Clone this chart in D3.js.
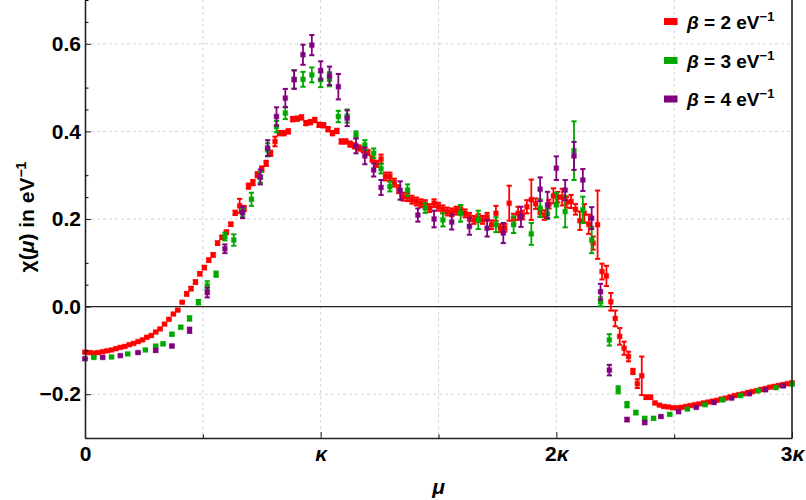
<!DOCTYPE html>
<html>
<head>
<meta charset="utf-8">
<script src="https://cdn.jsdelivr.net/npm/d3@7"></script>
<style>
  body { margin: 0; background: #fff; }
  svg text { font-family: "Liberation Sans", Arial, sans-serif; font-weight: bold; fill: #000; }
</style>
</head>
<body>
<div id="plot-area"></div>
<script>
// chi(mu) for three inverse temperatures, mu in eV (kappa = 1.6 eV)

const kappa = 1.6;
const xTicks = [0, 1.6, 3.2, 4.8];
const xTickNums = ["", "", "2", "3"]; // prefix before kappa
const yTicks = [-0.2, 0, 0.2, 0.4, 0.6];
const betaLabels = ["2", "3", "4"];

// beta = 2 eV^-1 (red)
const beta2Mu = [
  0.00,0.03,0.06,0.09,0.12,0.15,0.18,0.21,0.24,0.27,
  0.30,0.33,0.36,0.39,0.42,0.45,0.48,0.51,0.54,0.57,
  0.60,0.63,0.66,0.69,0.72,0.75,0.78,0.81,0.84,0.87,
  0.90,0.93,0.96,0.99,1.02,1.05,1.08,1.11,1.14,1.17,
  1.20,1.23,1.26,1.29,1.32,1.35,1.38,1.41,1.44,1.47,
  1.50,1.53,1.56,1.59,1.62,1.65,1.68,1.71,1.74,1.77,
  1.80,1.83,1.86,1.89,1.92,1.95,1.98,2.01,2.04,2.07,
  2.10,2.13,2.16,2.19,2.22,2.25,2.28,2.31,2.34,2.37,
  2.40,2.43,2.46,2.49,2.52,2.55,2.58,2.61,2.64,2.67,
  2.70,2.73,2.76,2.79,2.82,2.85,2.88,2.91,2.94,2.97,
  3.00,3.03,3.06,3.09,3.12,3.15,3.18,3.21,3.24,3.27,
  3.30,3.33,3.36,3.39,3.42,3.45,3.48,3.51,3.54,3.57,
  3.60,3.63,3.66,3.69,3.72,3.75,3.78,3.81,3.84,3.87,
  3.90,3.93,3.96,3.99,4.02,4.05,4.08,4.11,4.14,4.17,
  4.20,4.23,4.26,4.29,4.32,4.35,4.38,4.41,4.44,4.47,
  4.50,4.53,4.56,4.59,4.62,4.65,4.68,4.71,4.74,4.77,
  4.80];
const beta2Chi = [
  -0.104,-0.105,-0.106,-0.105,-0.103,-0.101,-0.099,-0.096,-0.093,-0.091,
  -0.087,-0.084,-0.080,-0.076,-0.070,-0.066,-0.058,-0.051,-0.040,-0.029,
  -0.017,-0.008,0.010,0.029,0.041,0.056,0.075,0.089,0.106,0.118,
  0.145,0.158,0.170,0.188,0.214,0.230,0.224,0.275,0.283,0.301,
  0.314,0.327,0.350,0.377,0.396,0.396,0.400,0.428,0.429,0.432,
  0.419,0.421,0.426,0.415,0.414,0.405,0.396,0.401,0.377,0.377,
  0.371,0.367,0.362,0.358,0.352,0.337,0.326,0.337,0.297,0.297,
  0.283,0.268,0.251,0.250,0.244,0.240,0.236,0.234,0.225,0.236,
  0.228,0.222,0.217,0.215,0.219,0.222,0.213,0.205,0.198,0.202,
  0.198,0.205,0.187,0.213,0.179,0.180,0.236,0.200,0.213,0.209,
  0.228,0.244,0.235,0.215,0.209,0.234,0.253,0.250,0.250,0.238,
  0.240,0.222,0.196,0.213,0.188,0.145,0.187,0.080,0.070,0.011,
  -0.027,-0.068,-0.095,-0.114,-0.148,-0.176,-0.158,-0.207,-0.207,-0.220,
  -0.225,-0.228,-0.229,-0.231,-0.231,-0.230,-0.228,-0.226,-0.224,-0.222,
  -0.220,-0.218,-0.216,-0.214,-0.211,-0.209,-0.206,-0.203,-0.201,-0.199,
  -0.196,-0.194,-0.192,-0.189,-0.187,-0.184,-0.182,-0.180,-0.178,-0.176,
  -0.174];
const beta2Err = [
  0.002,0.002,0.002,0.002,0.002,0.002,0.002,0.002,0.002,0.002,
  0.002,0.002,0.002,0.002,0.002,0.002,0.002,0.002,0.002,0.002,
  0.002,0.002,0.002,0.004,0.004,0.004,0.004,0.004,0.004,0.004,
  0.004,0.004,0.004,0.004,0.005,0.016,0.006,0.006,0.006,0.006,
  0.006,0.006,0.006,0.011,0.005,0.005,0.005,0.005,0.005,0.005,
  0.005,0.005,0.005,0.005,0.005,0.005,0.005,0.005,0.005,0.005,
  0.006,0.006,0.006,0.006,0.006,0.006,0.007,0.010,0.009,0.009,
  0.009,0.009,0.009,0.009,0.009,0.009,0.009,0.009,0.009,0.009,
  0.009,0.009,0.009,0.009,0.009,0.009,0.009,0.009,0.009,0.009,
  0.009,0.009,0.010,0.017,0.009,0.009,0.040,0.012,0.015,0.010,
  0.015,0.046,0.012,0.010,0.011,0.010,0.017,0.012,0.019,0.012,
  0.015,0.012,0.021,0.021,0.022,0.015,0.078,0.018,0.023,0.020,
  0.018,0.019,0.015,0.011,0.006,0.010,0.044,0.004,0.004,0.003,
  0.002,0.002,0.002,0.002,0.002,0.002,0.002,0.002,0.002,0.002,
  0.002,0.002,0.002,0.002,0.002,0.002,0.002,0.002,0.002,0.002,
  0.002,0.002,0.002,0.002,0.002,0.002,0.002,0.002,0.002,0.002,
  0.002];

// beta = 3 eV^-1 (green)
const beta3Mu = [
  0.06,0.18,0.29,0.41,0.48,0.53,0.59,0.65,0.71,0.77,
  0.83,0.89,0.95,1.01,1.07,1.13,1.19,1.24,1.30,1.36,
  1.42,1.48,1.54,1.60,1.66,1.72,1.78,1.84,1.90,1.96,
  2.01,2.07,2.19,2.31,2.43,2.55,2.67,2.79,2.91,3.03,
  3.09,3.14,3.20,3.26,3.32,3.38,3.44,3.50,3.56,3.62,
  3.68,3.74,3.80,3.86,3.97,4.09,4.21,4.33,4.45,4.57,
  4.69,4.80];
const beta3Chi = [
  -0.116,-0.115,-0.108,-0.099,-0.090,-0.085,-0.063,-0.047,-0.027,0.010,
  0.048,0.074,0.160,0.152,0.214,0.245,0.295,0.358,0.411,0.442,
  0.519,0.519,0.529,0.518,0.519,0.434,0.435,0.392,0.369,0.350,
  0.315,0.274,0.266,0.225,0.198,0.213,0.198,0.187,0.187,0.166,
  0.225,0.212,0.232,0.217,0.356,0.221,0.152,0.011,-0.076,-0.190,
  -0.224,-0.242,-0.255,-0.255,-0.246,-0.234,-0.224,-0.213,-0.203,-0.192,
  -0.185,-0.177];
const beta3Err = [
  0.002,0.002,0.002,0.002,0.002,0.003,0.003,0.003,0.005,0.005,
  0.010,0.006,0.009,0.013,0.010,0.015,0.012,0.015,0.013,0.014,
  0.021,0.017,0.017,0.017,0.016,0.013,0.015,0.008,0.011,0.011,
  0.011,0.011,0.013,0.011,0.015,0.019,0.021,0.017,0.019,0.025,
  0.020,0.012,0.028,0.036,0.067,0.030,0.030,0.010,0.013,0.008,
  0.006,0.004,0.003,0.003,0.002,0.002,0.002,0.002,0.002,0.002,
  0.002,0.002];

// beta = 4 eV^-1 (purple)
const beta4Mu = [
  0.00,0.12,0.24,0.36,0.48,0.59,0.71,0.83,0.95,1.07,
  1.19,1.24,1.30,1.36,1.42,1.48,1.54,1.60,1.66,1.72,
  1.78,1.84,1.90,1.96,2.01,2.14,2.26,2.37,2.49,2.61,
  2.73,2.84,2.96,3.09,3.14,3.20,3.26,3.32,3.38,3.44,
  3.50,3.56,3.68,3.80,3.91,4.03,4.15,4.27,4.39,4.51,
  4.62,4.74];
const beta4Chi = [
  -0.119,-0.116,-0.112,-0.105,-0.100,-0.090,-0.054,0.032,0.132,0.215,
  0.296,0.362,0.434,0.476,0.518,0.575,0.597,0.539,0.527,0.502,
  0.430,0.367,0.344,0.312,0.272,0.265,0.209,0.200,0.193,0.183,
  0.179,0.168,0.205,0.268,0.232,0.316,0.266,0.344,0.289,0.202,
  0.034,-0.145,-0.258,-0.265,-0.251,-0.240,-0.230,-0.219,-0.209,-0.199,
  -0.190,-0.181];
const beta4Err = [
  0.002,0.002,0.002,0.002,0.003,0.003,0.006,0.011,0.010,0.013,
  0.017,0.018,0.021,0.021,0.021,0.023,0.023,0.021,0.021,0.029,
  0.018,0.017,0.019,0.015,0.017,0.021,0.015,0.019,0.017,0.019,
  0.019,0.023,0.023,0.027,0.030,0.027,0.023,0.032,0.025,0.025,
  0.018,0.012,0.004,0.003,0.002,0.002,0.002,0.002,0.002,0.002,
  0.002,0.002];

const seriesColors = ["#ff0000", "#00a800", "#800080"];

const W = 806, H = 500;
const svg = d3.select("#plot-area").
append("svg").
attr("width", W).
attr("height", H);

const xL = 85, xR = 792, yT = 0, yB = 438;

const xScale = d3.scaleLinear().domain([0, 3 * kappa]).range([xL, xR]);
const yScale = d3.scaleLinear().domain([-0.3, 0.7]).range([yB, yT]);

// grid lines (dashed, light)
const gridX = [0.5, 1, 1.5, 2, 2.5].map(f => f * kappa);
const gridY = [-0.2, 0.2, 0.4, 0.6];

svg.append("g").
selectAll("line").
data(gridX).
join("line").
attr("x1", d => xScale(d)).attr("x2", d => xScale(d)).
attr("y1", yT).attr("y2", yB).
attr("stroke", "#d4d4d4").attr("stroke-width", 1).
attr("stroke-dasharray", "3,3");

svg.append("g").
selectAll("line").
data(gridY).
join("line").
attr("x1", xL).attr("x2", xR).
attr("y1", d => yScale(d)).attr("y2", d => yScale(d)).
attr("stroke", "#d4d4d4").attr("stroke-width", 1).
attr("stroke-dasharray", "3,3");

// zero line
svg.append("line").
attr("x1", xL).attr("x2", xR).
attr("y1", yScale(0)).attr("y2", yScale(0)).
attr("stroke", "#222").attr("stroke-width", 1.4);

// data with error bars
const allSeries = [
  { mu: beta2Mu, chi: beta2Chi, err: beta2Err },
  { mu: beta3Mu, chi: beta3Chi, err: beta3Err },
  { mu: beta4Mu, chi: beta4Chi, err: beta4Err }
];

allSeries.forEach((s, si) => {
  const col = seriesColors[si];
  const pts = s.mu.map((m, i) => ({ mu: m, chi: s.chi[i], err: s.err[i] }));
  const g = svg.append("g").attr("class", "series");
  const capW = 2.6;

  const pt = g.selectAll("g").data(pts).join("g");

  pt.append("line").
  attr("x1", d => xScale(d.mu)).attr("x2", d => xScale(d.mu)).
  attr("y1", d => yScale(d.chi - d.err)).attr("y2", d => yScale(d.chi + d.err)).
  attr("stroke", col).attr("stroke-width", 1.8);

  pt.append("line").
  attr("x1", d => xScale(d.mu) - capW).attr("x2", d => xScale(d.mu) + capW).
  attr("y1", d => yScale(d.chi + d.err)).attr("y2", d => yScale(d.chi + d.err)).
  attr("stroke", col).attr("stroke-width", 2);

  pt.append("line").
  attr("x1", d => xScale(d.mu) - capW).attr("x2", d => xScale(d.mu) + capW).
  attr("y1", d => yScale(d.chi - d.err)).attr("y2", d => yScale(d.chi - d.err)).
  attr("stroke", col).attr("stroke-width", 2);

  pt.append("rect").
  attr("x", d => xScale(d.mu) - 2.4).attr("y", d => yScale(d.chi) - 2.4).
  attr("width", 4.8).attr("height", 4.8).
  attr("fill", col).
  attr("stroke", col).attr("stroke-opacity", 0.3).attr("stroke-width", 1.2);
});

// axes (ticks point inward)
const yAxis = d3.axisLeft(yScale).
tickValues(yTicks).
tickSizeInner(-6).tickSizeOuter(0).tickPadding(4).
tickFormat(d3.format(".1f"));

const yAxisG = svg.append("g").
attr("id", "y-axis").
attr("transform", `translate(${xL} 0)`).
call(yAxis);

const yMinor = d3.range(-6, 15).map(i => i * 0.05).filter(v => Math.abs(Math.round(v * 10) % 2) === 1);
svg.append("g").
attr("transform", `translate(${xL} 0)`).
call(d3.axisLeft(yScale).tickValues(yMinor).tickSizeInner(-3.5).tickSizeOuter(0).tickFormat("")).
call(g => g.select(".domain").remove());

const xAxis = d3.axisBottom(xScale).
tickValues(xTicks).
tickSizeInner(-6).tickSizeOuter(0).tickPadding(8);

const xAxisG = svg.append("g").
attr("id", "x-axis").
attr("transform", `translate(0 ${yB})`).
call(xAxis);

svg.append("g").
attr("transform", `translate(0 ${yB})`).
call(d3.axisBottom(xScale).tickValues(gridX.filter((d, i) => i % 2 === 0)).tickSizeInner(-3.5).tickSizeOuter(0).tickFormat("")).
call(g => g.select(".domain").remove());

[yAxisG, xAxisG].forEach(g => {
  g.select(".domain").attr("stroke", "#222").attr("stroke-width", 1.6);
  g.selectAll(".tick line").attr("stroke", "#222").attr("stroke-width", 1);
  g.selectAll(".tick text").style("font-size", "21px").style("font-family", "'Liberation Sans', Arial, sans-serif").style("font-weight", "bold");
});

// kappa labels on the x axis
xAxisG.selectAll(".tick text").each(function (d, i) {
  const t = d3.select(this).text(null);
  if (i === 0) {
    t.text("0");
  } else {
    if (xTickNums[i]) t.append("tspan").text(xTickNums[i]);
    t.append("tspan").style("font-style", "italic").text("κ");
  }
});

// right frame
svg.append("line").
attr("x1", xR).attr("x2", xR).attr("y1", yT).attr("y2", yB).
attr("stroke", "#222").attr("stroke-width", 1.6);

// axis titles
svg.append("text").
attr("x", (xL + xR) / 2).attr("y", 494).
attr("text-anchor", "middle").
style("font-size", "21px").
style("font-style", "italic").
text("μ");

const yTitle = svg.append("text").
attr("transform", "translate(34 217) rotate(-90)").
attr("text-anchor", "middle").
style("font-size", "21px");
yTitle.append("tspan").text("χ(");
yTitle.append("tspan").style("font-style", "italic").text("μ");
yTitle.append("tspan").text(") in eV");
yTitle.append("tspan").attr("dy", -8).style("font-size", "14px").text("−1");

// legend
const legendRows = [21.5, 60.5, 99];
betaLabels.forEach((b, i) => {
  const ly = legendRows[i];
  svg.append("rect").
  attr("x", 664).attr("y", ly - 3.5).
  attr("width", 13.5).attr("height", 7).
  attr("fill", seriesColors[i]);

  const t = svg.append("text").
  attr("x", 687).attr("y", ly + 7).
  style("font-size", "19px");
  t.append("tspan").style("font-style", "italic").text("β");
  t.append("tspan").text(` = ${b} eV`);
  t.append("tspan").attr("dy", -8).style("font-size", "13px").text("−1");
});
</script>
</body>
</html>
